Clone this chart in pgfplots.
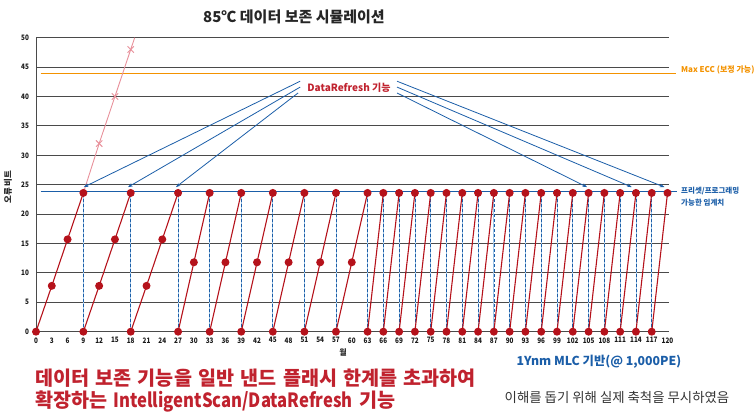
\documentclass[border=0pt]{standalone}
\usepackage{fontspec}
\setmainfont{Noto Sans CJK KR}
\newfontfamily\cond{Noto Sans CJK KR}[FakeStretch=0.85]
\newfontfamily\condB{Noto Sans CJK KR}[FakeStretch=0.85]
\usepackage{pgfplots}
\pgfplotsset{compat=1.18}
\usetikzlibrary{arrows.meta}
\definecolor{dotred}{HTML}{B5121B}
\definecolor{lineblue}{HTML}{1B5EA8}
\definecolor{lightblue}{HTML}{9DC3E6}
\definecolor{ecc}{HTML}{F39200}
\definecolor{pinkl}{HTML}{E8909A}
\definecolor{gridc}{HTML}{4A4A4A}
\definecolor{txtred}{HTML}{C0222E}
\definecolor{notegray}{HTML}{333333}
\begin{document}
\begin{tikzpicture}
\path[use as bounding box] (0pt,0pt) rectangle (756pt,415pt);
\begin{axis}[
  at={(36pt,83.3pt)}, anchor=south west, scale only axis,
  width=633.1pt, height=294pt,
  xmin=0, xmax=120.3, ymin=0, ymax=50,
  axis x line=bottom, axis y line=left,
  axis line style={draw=gridc, line width=1pt, -},
  xtick={0,3,...,120}, ytick={0,5,...,50},
  ymajorgrids, major grid style={gridc, line width=1pt},
  major tick length=0pt,
  tick label style={font=\cond\bfseries\fontsize{7.5}{8}\selectfont, text=black!90},
  xticklabel style={yshift=-2.3pt},
  yticklabel style={xshift=-3.5pt},
  /pgf/number format/assume math mode=true,
  clip=false,
]
% max ECC line
\addplot[ecc, line width=1.4pt] coordinates {(0.9,43.9) (121.7,43.9)};
% threshold line
\addplot[lineblue, line width=1.2pt] coordinates {(0.9,23.9) (121.8,23.9)};
% dashed verticals
\addplot[lightblue, line width=0.8pt, unbounded coords=jump] coordinates {
(9,0)(9,23.6)(9,nan)(18,0)(18,23.6)(18,nan)(27,0)(27,23.6)(27,nan)
(33,0)(33,23.6)(33,nan)(39,0)(39,23.6)(39,nan)(45,0)(45,23.6)(45,nan)
(51,0)(51,23.6)(51,nan)(57,0)(57,23.6)(57,nan)(63,0)(63,23.6)(63,nan)
(66,0)(66,23.6)(66,nan)(69,0)(69,23.6)(69,nan)(72,0)(72,23.6)(72,nan)
(75,0)(75,23.6)(75,nan)(78,0)(78,23.6)(78,nan)(81,0)(81,23.6)(81,nan)
(84,0)(84,23.6)(84,nan)(87,0)(87,23.6)(87,nan)(90,0)(90,23.6)(90,nan)
(93,0)(93,23.6)(93,nan)(96,0)(96,23.6)(96,nan)(99,0)(99,23.6)(99,nan)
(102,0)(102,23.6)(102,nan)(105,0)(105,23.6)(105,nan)(108,0)(108,23.6)(108,nan)
(111,0)(111,23.6)(111,nan)(114,0)(114,23.6)(114,nan)(117,0)(117,23.6)
};
\addplot[lineblue, line width=0.7pt, dash pattern=on 3pt off 2pt, unbounded coords=jump] coordinates {
(9,0)(9,23.6)(9,nan)(18,0)(18,23.6)(18,nan)(27,0)(27,23.6)(27,nan)
(33,0)(33,23.6)(33,nan)(39,0)(39,23.6)(39,nan)(45,0)(45,23.6)(45,nan)
(51,0)(51,23.6)(51,nan)(57,0)(57,23.6)(57,nan)(63,0)(63,23.6)(63,nan)
(66,0)(66,23.6)(66,nan)(69,0)(69,23.6)(69,nan)(72,0)(72,23.6)(72,nan)
(75,0)(75,23.6)(75,nan)(78,0)(78,23.6)(78,nan)(81,0)(81,23.6)(81,nan)
(84,0)(84,23.6)(84,nan)(87,0)(87,23.6)(87,nan)(90,0)(90,23.6)(90,nan)
(93,0)(93,23.6)(93,nan)(96,0)(96,23.6)(96,nan)(99,0)(99,23.6)(99,nan)
(102,0)(102,23.6)(102,nan)(105,0)(105,23.6)(105,nan)(108,0)(108,23.6)(108,nan)
(111,0)(111,23.6)(111,nan)(114,0)(114,23.6)(114,nan)(117,0)(117,23.6)
};
% pink (no refresh) line
\addplot[pinkl, line width=0.9pt, mark=x, mark size=4.5pt, mark indices={2,3,4}] coordinates {(9,23.6)(12,32)(15,40)(18,48)(18.75,50)};
% arrows
\addplot[lineblue, line width=0.8pt, -{Stealth[length=4.5pt,width=3.5pt]}] coordinates {(50.2,42.6) (9.1,24.6)};
\addplot[lineblue, line width=0.8pt, -{Stealth[length=4.5pt,width=3.5pt]}] coordinates {(50.2,41.6) (17.5,24.6)};
\addplot[lineblue, line width=0.8pt, -{Stealth[length=4.5pt,width=3.5pt]}] coordinates {(49.8,40.6) (26.6,24.6)};
\addplot[lineblue, line width=0.8pt, -{Stealth[length=4.5pt,width=3.5pt]}] coordinates {(68.6,42.6) (119.4,24.6)};
\addplot[lineblue, line width=0.8pt, -{Stealth[length=4.5pt,width=3.5pt]}] coordinates {(68.6,41.6) (113.2,24.6)};
\addplot[lineblue, line width=0.8pt, -{Stealth[length=4.5pt,width=3.5pt]}] coordinates {(68.6,40.6) (104.7,24.6)};
% red sawtooth
\addplot[dotred, line width=1.1pt, mark=*, mark size=3.4pt, mark options={solid}, unbounded coords=jump] coordinates {
(0,0)(3,7.8)(6,15.7)(9,23.6)(9,nan)
(9,0)(12,7.8)(15,15.7)(18,23.6)(18,nan)
(18,0)(21,7.8)(24,15.7)(27,23.6)(27,nan)
(27,0)(30,11.8)(33,23.6)(33,nan)
(33,0)(36,11.8)(39,23.6)(39,nan)
(39,0)(42,11.8)(45,23.6)(45,nan)
(45,0)(48,11.8)(51,23.6)(51,nan)
(51,0)(54,11.8)(57,23.6)(57,nan)
(57,0)(60,11.8)(63,23.6)(63,nan)
(63,0)(66,23.6)(66,nan)
(66,0)(69,23.6)(69,nan)
(69,0)(72,23.6)(72,nan)
(72,0)(75,23.6)(75,nan)
(75,0)(78,23.6)(78,nan)
(78,0)(81,23.6)(81,nan)
(81,0)(84,23.6)(84,nan)
(84,0)(87,23.6)(87,nan)
(87,0)(90,23.6)(90,nan)
(90,0)(93,23.6)(93,nan)
(93,0)(96,23.6)(96,nan)
(96,0)(99,23.6)(99,nan)
(99,0)(102,23.6)(102,nan)
(102,0)(105,23.6)(105,nan)
(105,0)(108,23.6)(108,nan)
(108,0)(111,23.6)(111,nan)
(111,0)(114,23.6)(114,nan)
(114,0)(117,23.6)(117,nan)
(117,0)(120,23.6)
};
\end{axis}
% title
\node[font=\bfseries\fontsize{15}{17}\selectfont, text=black!85] at (294pt,398pt) {85℃ 데이터 보존 시뮬레이션};
% y label
\node[rotate=90, font=\bfseries\fontsize{8.5}{10}\selectfont, text=black!85] at (8pt,228pt) {오류 비트};
% x label
\node[font=\bfseries\fontsize{8}{10}\selectfont, text=black!85] at (343pt,63pt) {월};
% annotation
\node[font=\bfseries\fontsize{10}{12}\selectfont, text=txtred] at (349pt,327pt) {DataRefresh 기능};
% right labels
\node[anchor=west, inner sep=0pt, font=\bfseries\fontsize{8}{9}\selectfont, text=ecc] at (681pt,345.5pt) {Max ECC (보정 가능)};
\node[anchor=west, inner sep=0pt, font=\bfseries\fontsize{7.5}{9}\selectfont, text=lineblue] at (681pt,224pt) {프리셋/프로그래밍};
\node[anchor=west, inner sep=0pt, font=\bfseries\fontsize{7.5}{9}\selectfont, text=lineblue] at (681pt,212pt) {가능한 임계치};
% bottom texts
\node[font=\bfseries\fontsize{12.3}{14}\selectfont, text=lineblue] at (599pt,53pt) {1Ynm MLC 기반(@ 1,000PE)};
\node[anchor=west, inner sep=0pt, font=\bfseries\fontsize{19.6}{21}\selectfont, text=txtred] at (35pt,37pt) {\spaceskip=6.3pt 데이터 보존 기능을 일반 낸드 플래시 한계를 초과하여};
\node[anchor=west, inner sep=0pt, font=\bfseries\fontsize{19.6}{21}\selectfont, text=txtred] at (35pt,13pt) {\spaceskip=6.3pt 확장하는 {\condB\bfseries IntelligentScan/DataRefresh} 기능};
\node[font=\fontsize{13.4}{15}\selectfont, text=notegray] at (617pt,18pt) {이해를 돕기 위해 실제 축척을 무시하였음};
\end{tikzpicture}
\end{document}
